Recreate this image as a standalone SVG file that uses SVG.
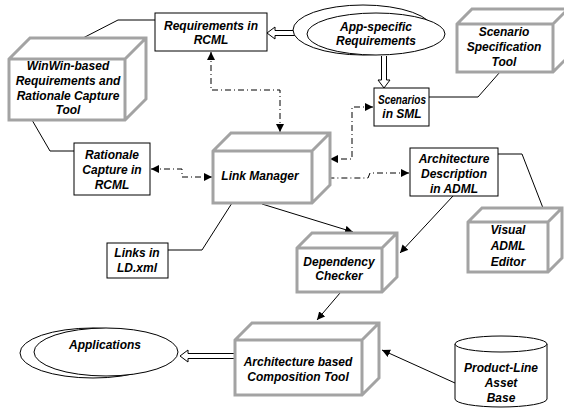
<svg xmlns="http://www.w3.org/2000/svg" width="564" height="410" viewBox="0 0 564 410">
<defs>
<style>
text{font-family:"Liberation Sans",Arial,sans-serif;font-size:12px;font-weight:bold;font-style:italic;fill:#000;text-anchor:middle}
.box{fill:#fff;stroke:#000;stroke-width:1}
.cube{fill:#fff;stroke:#a3a3a3;stroke-width:3;stroke-linejoin:miter}
.ell{fill:#fff;stroke:#000;stroke-width:1}
.ln{fill:none;stroke:#000;stroke-width:1}
.dd{fill:none;stroke:#000;stroke-width:1;stroke-dasharray:6,3,1,3}
.hollow{fill:#fff;stroke:#000;stroke-width:1}
</style>
<marker id="ah" viewBox="0 0 10 10" refX="10" refY="5" markerWidth="8" markerHeight="8" markerUnits="userSpaceOnUse" orient="auto-start-reverse">
<path d="M0,0 L10,5 L0,10 Z" fill="#000"/>
</marker>
</defs>
<rect width="564" height="410" fill="#fff"/>

<g id="connectors">
<path class="ln" d="M83,38 L118,20 L155,20"/>
<path class="ln" d="M32,120 L50,151 L74,151"/>
<path class="ln" d="M429,97 L478,97 L500,72"/>
<path class="ln" d="M498,154 L522,154 L543,208"/>
<path class="ln" d="M168,250 L202,250 L232,203"/>
<path class="dd" d="M211,52 L211,90 L280,90 L280,132" marker-start="url(#ah)" marker-end="url(#ah)"/>
<path class="dd" d="M151,169 L182,169 L182,177 L212,177" marker-start="url(#ah)" marker-end="url(#ah)"/>
<path class="dd" d="M373,107 L352,107 L352,159 L330,159" marker-start="url(#ah)" marker-end="url(#ah)"/>
<path class="dd" d="M409,173 L370,173 L368,178 L313,178" marker-start="url(#ah)" marker-end="url(#ah)"/>
<path class="ln" d="M262,204 L353,232" marker-end="url(#ah)"/>
<path class="ln" d="M453,196 L400,253" marker-end="url(#ah)"/>
<path class="ln" d="M340,293 L317,320" marker-end="url(#ah)"/>
<path class="ln" d="M455,383 L382,350" marker-end="url(#ah)"/>
<path class="hollow" d="M295,30.5 L275,30.5 L275,27 L267,33 L275,39 L275,35.5 L295,35.5"/>
<path class="hollow" d="M381.5,56 L381.5,80 L378,80 L384,88 L390,80 L386.5,80 L386.5,56"/>
<path class="hollow" d="M235,353.5 L188,353.5 L188,350 L180,356 L188,362 L188,358.5 L235,358.5"/>
</g>

<g id="req-rcml">
<rect class="box" x="155" y="13" width="112" height="38"/>
<text x="211" y="30">Requirements in</text>
<text x="211" y="44">RCML</text>
</g>

<g id="app-req">
<ellipse class="ell" cx="363" cy="30" rx="70" ry="25"/>
<ellipse class="ell" cx="376" cy="34" rx="69" ry="21"/>
<text x="376" y="31">App-specific</text>
<text x="376" y="45">Requirements</text>
</g>

<g id="winwin">
<path class="cube" d="M9,59 L30,38 L146,38 L146,99 L125,120 L9,120 Z M9,59 L125,59 L125,120 M125,59 L146,38"/>
<text x="68" y="70">WinWin-based</text>
<text x="68" y="85">Requirements and</text>
<text x="68" y="100">Rationale Capture</text>
<text x="68" y="114">Tool</text>
</g>

<g id="scenario-tool">
<path class="cube" d="M457,24 L472,9 L568,9 L568,57 L553,72 L457,72 Z M457,24 L553,24 L553,72 M553,24 L568,9"/>
<text x="504" y="36">Scenario</text>
<text x="504" y="51">Specification</text>
<text x="504" y="66">Tool</text>
</g>

<g id="scenarios-sml">
<rect class="box" x="374" y="88" width="55" height="38"/>
<text x="402" y="104" textLength="48" lengthAdjust="spacingAndGlyphs">Scenarios</text>
<text x="402" y="118">in SML</text>
</g>

<g id="rationale-rcml">
<rect class="box" x="74" y="143" width="76" height="52"/>
<text x="112" y="159">Rationale</text>
<text x="112" y="174">Capture in</text>
<text x="112" y="189">RCML</text>
</g>

<g id="link-manager">
<path class="cube" d="M213,151 L231,133 L330,133 L330,185 L312,203 L213,203 Z M213,151 L312,151 L312,203 M312,151 L330,133"/>
<text x="260" y="180">Link Manager</text>
</g>

<g id="arch-desc">
<rect class="box" x="410" y="148" width="88" height="48"/>
<text x="454" y="163">Architecture</text>
<text x="454" y="178">Description</text>
<text x="454" y="193">in ADML</text>
</g>

<g id="visual-adml">
<path class="cube" d="M468,222 L482,208 L562,208 L562,258 L548,272 L468,272 Z M468,222 L548,222 L548,272 M548,222 L562,208"/>
<text x="508" y="234">Visual</text>
<text x="508" y="250">ADML</text>
<text x="508" y="266">Editor</text>
</g>

<g id="links-ld">
<rect class="box" x="107" y="243" width="61" height="35"/>
<text x="137" y="257">Links in</text>
<text x="137" y="272">LD.xml</text>
</g>

<g id="dependency-checker">
<path class="cube" d="M297,248 L312,233 L397,233 L397,277 L382,292 L297,292 Z M297,248 L382,248 L382,292 M382,248 L397,233"/>
<text x="339" y="266">Dependency</text>
<text x="339" y="280">Checker</text>
</g>

<g id="applications">
<ellipse class="ell" cx="93" cy="353" rx="73" ry="25"/>
<ellipse class="ell" cx="106" cy="352" rx="72" ry="24"/>
<text x="105" y="349">Applications</text>
</g>

<g id="arch-composition">
<path class="cube" d="M235,340 L252,323 L379,323 L379,378 L362,395 L235,395 Z M235,340 L362,340 L362,395 M362,340 L379,323"/>
<text x="298" y="366">Architecture based</text>
<text x="298" y="381">Composition Tool</text>
</g>

<g id="asset-base">
<path class="ell" d="M455,344 L455,399 A46,8 0 0 0 547,399 L547,344"/>
<ellipse class="ell" cx="501" cy="344" rx="46" ry="8"/>
<text x="501" y="372">Product-Line</text>
<text x="501" y="387">Asset</text>
<text x="501" y="402">Base</text>
</g>
</svg>
